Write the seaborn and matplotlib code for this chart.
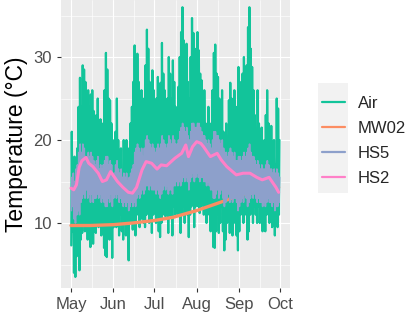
import numpy as np
import pandas as pd
import matplotlib
matplotlib.use("Agg")
import matplotlib.pyplot as plt
import matplotlib.dates as mdates
import seaborn as sns
from matplotlib.lines import Line2D
from matplotlib.patches import Rectangle

# ---------------- data ----------------
start_date = "2019-05-01"

air_max = [21, 17, 18, 16, 19, 24, 27.5, 24, 29, 28.5, 27, 22, 26, 24, 25.5, 26, 23.5, 21, 23, 25, 19, 22.5, 20, 22, 26, 30.5, 28.5, 25, 24.8, 22, 20,
           18, 21, 25, 20, 17, 19, 16, 20, 18, 20, 17, 19, 22, 24, 27, 31.4, 30, 30.4, 27, 24, 26, 21, 25, 29, 33.3, 31, 27, 24, 28.4, 26,
           22, 25, 27.6, 24, 26.9, 31.7, 28, 26, 22, 25, 30, 28, 25, 29.6, 27, 24, 22, 26.4, 30, 33, 36, 32, 28, 31.6, 27, 25, 30, 34.7, 32.9, 31, 29,
           33, 30.8, 28, 27.2, 24, 26, 22, 20, 24, 22, 20, 26, 30.5, 31.5, 28, 27.6, 25, 23, 26, 21, 19, 22, 20, 24.8, 26.9, 25, 22, 26, 21, 24, 28.8,
           27, 24, 28, 30, 27, 29, 33.6, 36, 31, 28.8, 26, 23, 21, 26, 22, 19, 21.5, 18, 20, 23, 26, 22, 19, 21.7, 18, 20, 17, 25, 23.8, 20]

air_min = [7.3, 9, 4, 3.5, 6, 6.4, 4.3, 8, 8.8, 10, 9, 11, 8, 9, 7.1, 10, 7.5, 9, 8.8, 11, 9.5, 10, 8.5, 10, 7, 6.1, 5.9, 9, 8, 10, 5.8,
           9.5, 11, 9.5, 10, 8.5, 11, 9, 8, 10, 8.5, 11, 5.5, 10, 11, 9.2, 10, 8.5, 11, 12, 9.5, 10.5, 12, 10, 9.5, 11, 12, 10, 11, 8.8, 11,
           12, 10, 11, 9, 8.3, 10, 11, 12, 10.8, 12, 8.8, 11, 10.8, 8.5, 12, 11, 13, 11, 12, 8.8, 11, 12, 10, 12, 11, 8.3, 11, 12, 13, 9.5, 12,
           13, 12, 11.2, 12, 13, 11, 12, 10, 12, 11, 9, 10, 7.1, 7, 9, 11, 8.8, 10, 12, 9, 6.7, 8, 10, 12, 8.8, 11, 8.5, 10, 12, 8.5, 6.7,
           9, 11, 12, 10, 12.6, 11, 8, 9, 11, 12, 10, 12, 11, 10, 12, 10, 11, 9, 10, 9, 11, 12, 10, 11, 9.5, 11, 8.5, 10, 9.5, 11]

hs5_max = [15.5, 16, 15, 16.5, 17, 18.5, 19.5, 18.5, 19.5, 19, 18, 17.5, 18.5, 18, 18.5, 18, 17.5, 17, 17.5, 18, 16.5, 17, 16.5, 17, 17.5, 18, 18, 17, 17.5, 17, 16,
           16, 17, 17.5, 16.5, 16, 16.5, 15.5, 16, 15.5, 16, 15, 15.5, 16, 16.5, 17, 18.5, 19, 19.5, 19, 18.5, 19, 18, 19, 20, 20.5, 20, 19.5, 19, 19.5, 19,
           18.5, 19, 19.5, 19, 19.5, 20.5, 20, 19.5, 19, 19.5, 20.5, 20, 19.5, 20.5, 20, 19.5, 19.5, 20, 21, 21.5, 22, 21.5, 21, 21.5, 20.5, 20, 21, 22, 22, 21.5, 21.5,
           22, 22, 21.5, 21, 20.5, 20.5, 20, 19.5, 20, 19.5, 19, 20, 21, 21, 20.5, 20.5, 20, 19.5, 20, 19, 18.5, 18.5, 18, 18.5, 19, 18.5, 18, 18.5, 17.5, 17.5, 18,
           18, 17.5, 18, 18.5, 18, 18.5, 19, 19.5, 18.5, 18, 18, 17.5, 17, 17.5, 17, 16.5, 17, 16.5, 16.5, 17, 17.5, 17, 16.5, 16.5, 16, 16.5, 16, 16.5, 16, 15.5]

hs5_min = [11.5, 12, 10.5, 10, 11, 11.5, 11, 12.5, 13, 13.5, 13, 14, 13, 13.5, 12.5, 13.5, 12.5, 13, 13, 13.5, 13, 13.5, 12.5, 13, 12.5, 12, 12, 13, 12.5, 13.5, 12,
           13, 13.5, 13, 13.5, 12.5, 13, 12.5, 12, 12.5, 12, 12.5, 11.5, 12, 12.5, 12, 12.5, 12, 13, 13.5, 13, 13.5, 14, 13.5, 14, 14.5, 14.5, 14, 14.5, 14, 14,
           14, 13.5, 14, 13.5, 13, 13.5, 14, 14.5, 14, 14.5, 13.5, 14, 14, 13.5, 14.5, 14.5, 15, 14.5, 15, 14.5, 15, 15.5, 15, 15.5, 15, 14, 15, 15.5, 16, 15, 15.5,
           16, 15.5, 15, 15.5, 15.5, 15, 15, 14.5, 15, 14.5, 14, 14, 13, 13, 13.5, 14, 13, 13.5, 14, 13, 12, 12.5, 13, 13.5, 12.5, 13, 12.5, 13, 13, 12.5, 11.5,
           12, 12.5, 13, 12.5, 13.5, 13, 12, 12.5, 13, 13.5, 13, 13.5, 13, 12.5, 13, 12.5, 12.5, 12, 12.5, 12, 12.5, 13, 12.5, 12.5, 12, 12.5, 11.5, 12, 12, 12.5]

hs2_dates = ["2019-05-01", "2019-05-03", "2019-05-05", "2019-05-07", "2019-05-09", "2019-05-12", "2019-05-14",
             "2019-05-17", "2019-05-21", "2019-05-24", "2019-05-27", "2019-05-30", "2019-06-04", "2019-06-08",
             "2019-06-12", "2019-06-15", "2019-06-18", "2019-06-22", "2019-06-25", "2019-06-29", "2019-07-03",
             "2019-07-06", "2019-07-10", "2019-07-16", "2019-07-21", "2019-07-24", "2019-07-26", "2019-07-29",
             "2019-08-01", "2019-08-04", "2019-08-06", "2019-08-11", "2019-08-16", "2019-08-19", "2019-08-23",
             "2019-08-30", "2019-09-04", "2019-09-09", "2019-09-14", "2019-09-18", "2019-09-23", "2019-09-28",
             "2019-09-30"]
hs2_vals = [14.2, 14.0, 14.6, 16.7, 17.5, 17.9, 17.2, 16.8, 16.0, 15.0, 15.2, 16.2, 15.0, 14.3,
            13.7, 13.6, 14.3, 16.4, 17.4, 17.2, 16.5, 17.0, 16.9, 17.8, 18.4, 19.4, 18.0, 19.2,
            19.8, 19.6, 19.2, 18.0, 18.4, 17.6, 16.8, 15.8, 16.0, 16.0, 15.5, 15.2, 15.5, 14.3, 13.7]

mw02_dates = ["2019-05-01", "2019-05-15", "2019-06-01", "2019-06-15", "2019-07-01", "2019-07-15",
              "2019-08-01", "2019-08-15", "2019-09-01", "2019-09-15", "2019-09-30"]
mw02_vals = [9.7, 9.7, 9.8, 10.0, 10.3, 10.7, 11.5, 12.3, 13.3, 14.0, 14.3]

series_names = ["Air", "MW02", "HS5", "HS2"]
series_colors = ["#12C49A", "#FC8D62", "#8DA0CB", "#FF80C8"]
series_widths = [1.6, 2.4, 1.2, 2.2]

month_ticks = ["2019-05-01", "2019-06-01", "2019-07-01", "2019-08-01", "2019-09-01", "2019-10-01"]
month_labels = ["May", "Jun", "Jul", "Aug", "Sep", "Oct"]
y_ticks = [10, 20, 30]

# ---------------- build long table ----------------
days = pd.date_range(start_date, periods=len(air_max), freq="D")

def daily_cycle(dmin, dmax, hmin, hmax):
    t = []
    v = []
    for d, lo, hi in zip(days, dmin, dmax):
        t += [d + pd.Timedelta(hours=hmin), d + pd.Timedelta(hours=hmax)]
        v += [lo, hi]
    return t, v

frames = []
t, v = daily_cycle(air_min, air_max, 5, 14)
frames.append(pd.DataFrame({"time": t, "temp": v, "series": "Air"}))
frames.append(pd.DataFrame({"time": pd.to_datetime(mw02_dates), "temp": mw02_vals, "series": "MW02"}))
t, v = daily_cycle(hs5_min, hs5_max, 7, 17)
frames.append(pd.DataFrame({"time": t, "temp": v, "series": "HS5"}))
frames.append(pd.DataFrame({"time": pd.to_datetime(hs2_dates), "temp": hs2_vals, "series": "HS2"}))
df = pd.concat(frames, ignore_index=True)

# ---------------- style ----------------
sns.set_theme(style="darkgrid", rc={
    "axes.facecolor": "#EBEBEB",
    "figure.facecolor": "white",
    "grid.color": "white",
    "axes.edgecolor": "#EBEBEB",
})
plt.rcParams["font.family"] = ["Liberation Sans", "DejaVu Sans"]

fig = plt.figure(figsize=(4.08, 3.15), dpi=100)
ax = fig.add_axes([61 / 408, 1 - 288 / 315, (290 - 61) / 408, 288 / 315])

sns.lineplot(data=df, x="time", y="temp", hue="series", hue_order=series_names,
             palette=dict(zip(series_names, series_colors)),
             size="series", size_order=series_names,
             sizes=dict(zip(series_names, series_widths)),
             estimator=None, legend=False, ax=ax)

x0 = pd.Timestamp("2019-05-01")
x1 = pd.Timestamp("2019-10-01")
ax.set_xlim(x0 - pd.Timedelta(days=7.3), x1 + pd.Timedelta(days=7.3))
ax.set_ylim(2.17, 36.87)

ax.set_yticks(y_ticks)
ax.set_yticks([5, 15, 25, 35], minor=True)
ax.set_xticks(pd.to_datetime(month_ticks))
ax.set_xticklabels(month_labels)
minor_x = pd.to_datetime(month_ticks[:-1]) + (pd.to_datetime(month_ticks[1:]) - pd.to_datetime(month_ticks[:-1])) / 2
ax.set_xticks(minor_x, minor=True)

ax.grid(which="major", color="white", linewidth=0.85)
ax.grid(which="minor", color="white", linewidth=0.45)
ax.tick_params(which="major", length=3, width=0.8, color="#333333",
               labelsize=12, labelcolor="#4D4D4D", pad=3.5)
ax.tick_params(which="minor", length=0)
ax.tick_params(axis="x", bottom=True)
ax.tick_params(axis="y", left=True)
for s in ax.spines.values():
    s.set_visible(False)

ax.set_xlabel("")
ax.set_ylabel("Temperature (\u00b0C)", fontsize=16.5, color="black", labelpad=4)

# legend
handles = [Line2D([], [], color=c, lw=1.6) for c in series_colors]
fig.patches.append(Rectangle((318 / 408, 1 - 193 / 315), 30 / 408, 110 / 315,
                             transform=fig.transFigure, facecolor="#F2F2F2",
                             edgecolor="none", zorder=0))
leg = fig.legend(handles, series_names, loc="center left",
                 bbox_to_anchor=(322 / 408, 1 - 141 / 315),
                 frameon=False, fontsize=12, handlelength=1.38,
                 handletextpad=0.75, labelspacing=0.6, borderpad=0,
                 borderaxespad=0)

fig.savefig("out.png", dpi=100)
